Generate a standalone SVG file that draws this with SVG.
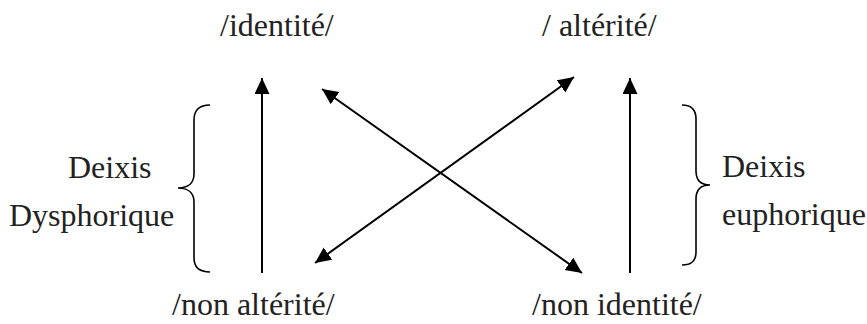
<svg xmlns="http://www.w3.org/2000/svg" width="867" height="324" viewBox="0 0 867 324">
<style>
text{font-family:"Liberation Serif","Times New Roman",serif;font-size:32px;fill:#222}
.arr{stroke:#000;stroke-width:2;fill:none}
.brace{stroke:#000;stroke-width:1.6;fill:none}
</style>
<defs>
<marker id="ah" markerUnits="userSpaceOnUse" markerWidth="17" markerHeight="16" refX="16" refY="7.5" orient="auto-start-reverse" viewBox="0 0 17 16">
<path d="M0,0 L16,7.5 L0,15 z" fill="#000"/>
</marker>
</defs>
<rect width="867" height="324" fill="#fff"/>
<g id="n-identite"><text x="220" y="36">/identité/</text></g>
<g id="n-alterite"><text x="542" y="36">/ altérité/</text></g>
<g id="n-non-alterite"><text x="172" y="315">/non altérité/</text></g>
<g id="n-non-identite"><text x="532" y="315">/non identité/</text></g>
<g id="n-deixis-dys">
<text x="68" y="178">Deixis</text>
<text x="9" y="226">Dysphorique</text>
<path class="brace" d="M210,105 C199,105 194,111 194,120 L194,174 C194,183 188,188 178,188 C188,188 194,193 194,202 L194,258 C194,267 199,272 210,272"/>
</g>
<g id="n-deixis-eu">
<text x="722" y="177">Deixis</text>
<text x="722" y="225">euphorique</text>
<path class="brace" d="M682,105 C692,105 696,110 696,119 L696,171 C696,180 701,185 710,185 C701,185 696,190 696,199 L696,252 C696,261 692,265 682,265"/>
</g>
<g id="connectors">
<line class="arr" x1="262" y1="273" x2="262" y2="78" marker-end="url(#ah)"/>
<line class="arr" x1="630" y1="273" x2="630" y2="78" marker-end="url(#ah)"/>
<line class="arr" x1="322" y1="89" x2="582" y2="273" marker-start="url(#ah)" marker-end="url(#ah)"/>
<line class="arr" x1="315" y1="263" x2="574" y2="77" marker-start="url(#ah)" marker-end="url(#ah)"/>
</g>
</svg>
